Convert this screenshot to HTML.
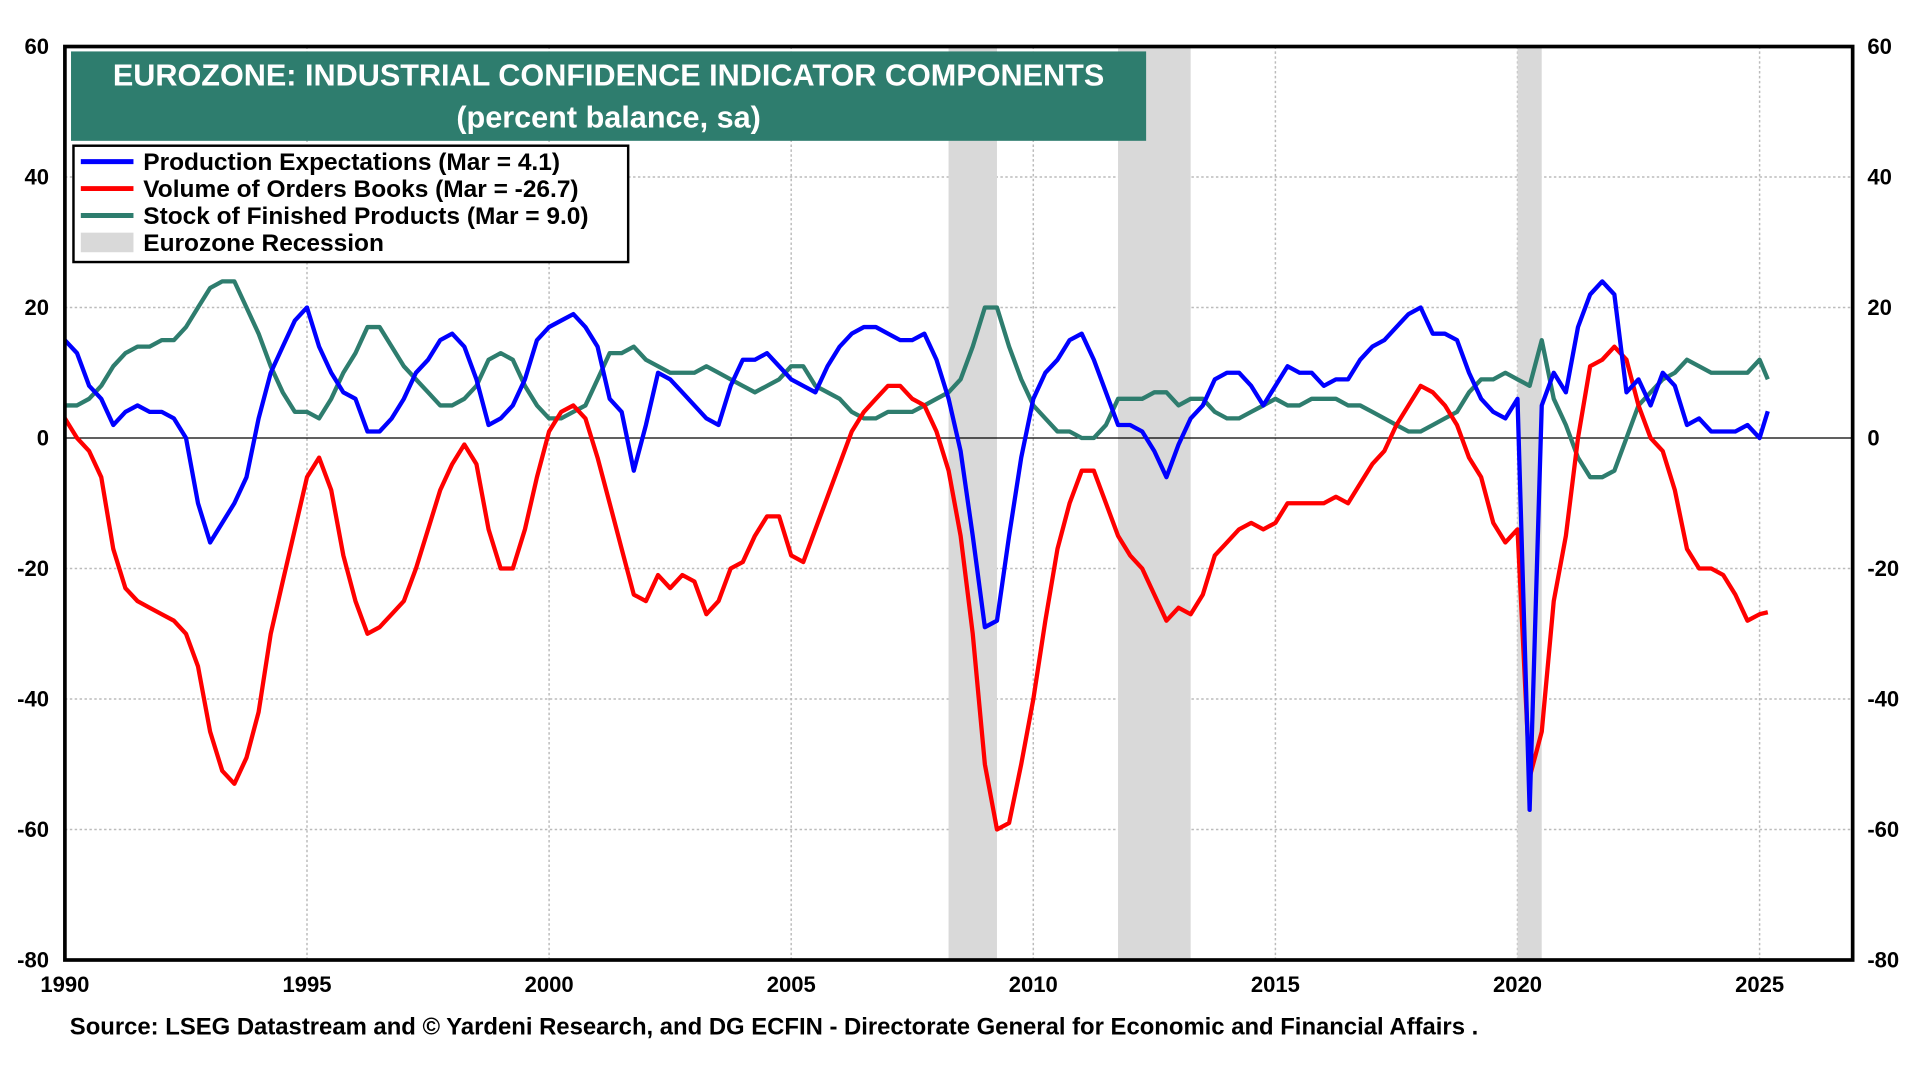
<!DOCTYPE html>
<html><head><meta charset="utf-8"><style>
html,body{margin:0;padding:0;background:#fff;width:1920px;height:1080px;overflow:hidden}
svg{display:block}
text{font-family:"Liberation Sans",Arial,sans-serif;font-weight:bold}
</style></head><body>
<svg id="chart" width="1920" height="1080" viewBox="0 0 1568 882" preserveAspectRatio="none" xmlns="http://www.w3.org/2000/svg">
<g id="grid"></g>
<g id="recessions"></g>
<g id="series"></g>
<g id="axes"></g>
<g>
<rect x="58" y="42" width="878" height="73" fill="#2e7d6e"/>
<text x="497" y="70" fill="#fff" font-size="25" text-anchor="middle">EUROZONE: INDUSTRIAL CONFIDENCE INDICATOR COMPONENTS</text>
<text x="497" y="104" fill="#fff" font-size="25" text-anchor="middle">(percent balance, sa)</text>
</g>
<g>
<rect x="60" y="119" width="453" height="95" fill="#fff" stroke="#000" stroke-width="2"/>
<line x1="66" y1="132" x2="109" y2="132" stroke="#0000ff" stroke-width="4"/>
<text x="117" y="139" font-size="20">Production Expectations  (Mar = 4.1)</text>
<line x1="66" y1="154" x2="109" y2="154" stroke="#ff0000" stroke-width="4"/>
<text x="117" y="161" font-size="20">Volume of Orders Books (Mar = -26.7)</text>
<line x1="66" y1="176" x2="109" y2="176" stroke="#2e7d6e" stroke-width="4"/>
<text x="117" y="183" font-size="20">Stock of Finished  Products (Mar = 9.0)</text>
<rect x="66" y="190" width="43" height="16" fill="#d9d9d9"/>
<text x="117" y="205" font-size="20">Eurozone Recession</text>
</g>
<text x="57" y="845" font-size="19.5">Source: LSEG Datastream and © Yardeni Research, and DG ECFIN - Directorate General for Economic and Financial Affairs .</text>
</svg>
<script>
const yTicks=[60,40,20,0,-20,-40,-60,-80];
const xTicks=[1990,1995,2000,2005,2010,2015,2020,2025];
const recessionStarts=[2008.25,2011.75,2020.0];
const recessionEnds=[2009.25,2013.25,2020.5];
const production=[15,13,8,6,2,4,5,4,4,3,0,-10,-16,-13,-10,-6,3,10,14,18,20,14,10,7,6,1,1,3,6,10,12,15,16,14,9,2,3,5,9,15,17,18,19,17,14,6,4,-5,2,10,9,7,5,3,2,8,12,12,13,11,9,8,7,11,14,16,17,17,16,15,15,16,12,6,-2,-15,-29,-28,-15,-3,6,10,12,15,16,12,7,2,2,1,-2,-6,-1,3,5,9,10,10,8,5,8,11,10,10,8,9,9,12,14,15,17,19,20,16,16,15,10,6,4,3,6,-57,5,10,7,17,22,24,22,7,9,5,10,8,2,3,1,1,1,2,0,4.1];
const orders=[3,0,-2,-6,-17,-23,-25,-26,-27,-28,-30,-35,-45,-51,-53,-49,-42,-30,-22,-14,-6,-3,-8,-18,-25,-30,-29,-27,-25,-20,-14,-8,-4,-1,-4,-14,-20,-20,-14,-6,1,4,5,3,-3,-10,-17,-24,-25,-21,-23,-21,-22,-27,-25,-20,-19,-15,-12,-12,-18,-19,-14,-9,-4,1,4,6,8,8,6,5,1,-5,-15,-30,-50,-60,-59,-50,-40,-28,-17,-10,-5,-5,-10,-15,-18,-20,-24,-28,-26,-27,-24,-18,-16,-14,-13,-14,-13,-10,-10,-10,-10,-9,-10,-7,-4,-2,2,5,8,7,5,2,-3,-6,-13,-16,-14,-52,-45,-25,-15,0,11,12,14,12,5,0,-2,-8,-17,-20,-20,-21,-24,-28,-27,-26.7];
const stocks=[5,5,6,8,11,13,14,14,15,15,17,20,23,24,24,20,16,11,7,4,4,3,6,10,13,17,17,14,11,9,7,5,5,6,8,12,13,12,8,5,3,3,4,5,9,13,13,14,12,11,10,10,10,11,10,9,8,7,8,9,11,11,8,7,6,4,3,3,4,4,4,5,6,7,9,14,20,20,14,9,5,3,1,1,0,0,2,6,6,6,7,7,5,6,6,4,3,3,4,5,6,5,5,6,6,6,5,5,4,3,2,1,1,2,3,4,7,9,9,10,9,8,15,6,2,-3,-6,-6,-5,0,5,7,9,10,12,11,10,10,10,10,12,9.0];
const NS="http://www.w3.org/2000/svg";
const L=53,R=1513,T=38,B=784;
const xs=t=>L+(t-1990)*(1437-53)/35;
const ys=v=>T+(60-v)*(B-T)/140;
const dateAt=i=>i<141?1990+i*0.25:2025.17;
function mk(tag,attrs,parent){const e=document.createElementNS(NS,tag);for(const k in attrs)e.setAttribute(k,attrs[k]);parent.appendChild(e);return e;}
const grid=document.getElementById('grid'),axes=document.getElementById('axes'),rec=document.getElementById('recessions'),ser=document.getElementById('series');
yTicks.forEach(v=>{
  if(v!==60&&v!==-80&&v!==0){const g=mk('line',{x1:L,x2:R,y1:ys(v),y2:ys(v),stroke:'#bbb','stroke-width':1.2,'stroke-dasharray':'2,2'},grid);
  
  }
  const a=mk('text',{x:L-13,y:ys(v)+6,'font-size':18,'text-anchor':'end'},axes);a.textContent=v;
  
  
  const b=mk('text',{x:R+12,y:ys(v)+6,'font-size':18},axes);b.textContent=v;
  
  
});
xTicks.forEach(t=>{
  if(t!==1990){const g=mk('line',{x1:xs(t),x2:xs(t),y1:T,y2:B,stroke:'#bbb','stroke-width':1.2,'stroke-dasharray':'2,2'},grid);
  
  }
  const a=mk('text',{x:xs(t),y:B+26,'font-size':18,'text-anchor':'middle'},axes);a.textContent=t;
  
  
});
recessionStarts.forEach((s,i)=>{
  const r=mk('rect',{x:xs(s),y:T,width:xs(recessionEnds[i])-xs(s),height:B-T,fill:'#d9d9d9'},rec);
  
  
});
const z=mk('line',{x1:L,x2:R,y1:ys(0),y2:ys(0),stroke:'#000','stroke-width':1},rec);


function line(arr,color,name){
  const d=arr.map((v,i)=>(i?'L':'M')+xs(dateAt(i)).toFixed(1)+','+ys(v).toFixed(1)).join('');
  const p=mk('path',{d:d,fill:'none',stroke:color,'stroke-width':3.5,'stroke-linejoin':'round'},ser);
  
  
}
line(stocks,'#2e7d6e','stocks-line');
line(orders,'#ff0000','orders-line');
line(production,'#0000ff','production-line');
const f=mk('rect',{x:L,y:T,width:R-L,height:B-T,fill:'none',stroke:'#000','stroke-width':3},axes);


</script>
</body></html>
